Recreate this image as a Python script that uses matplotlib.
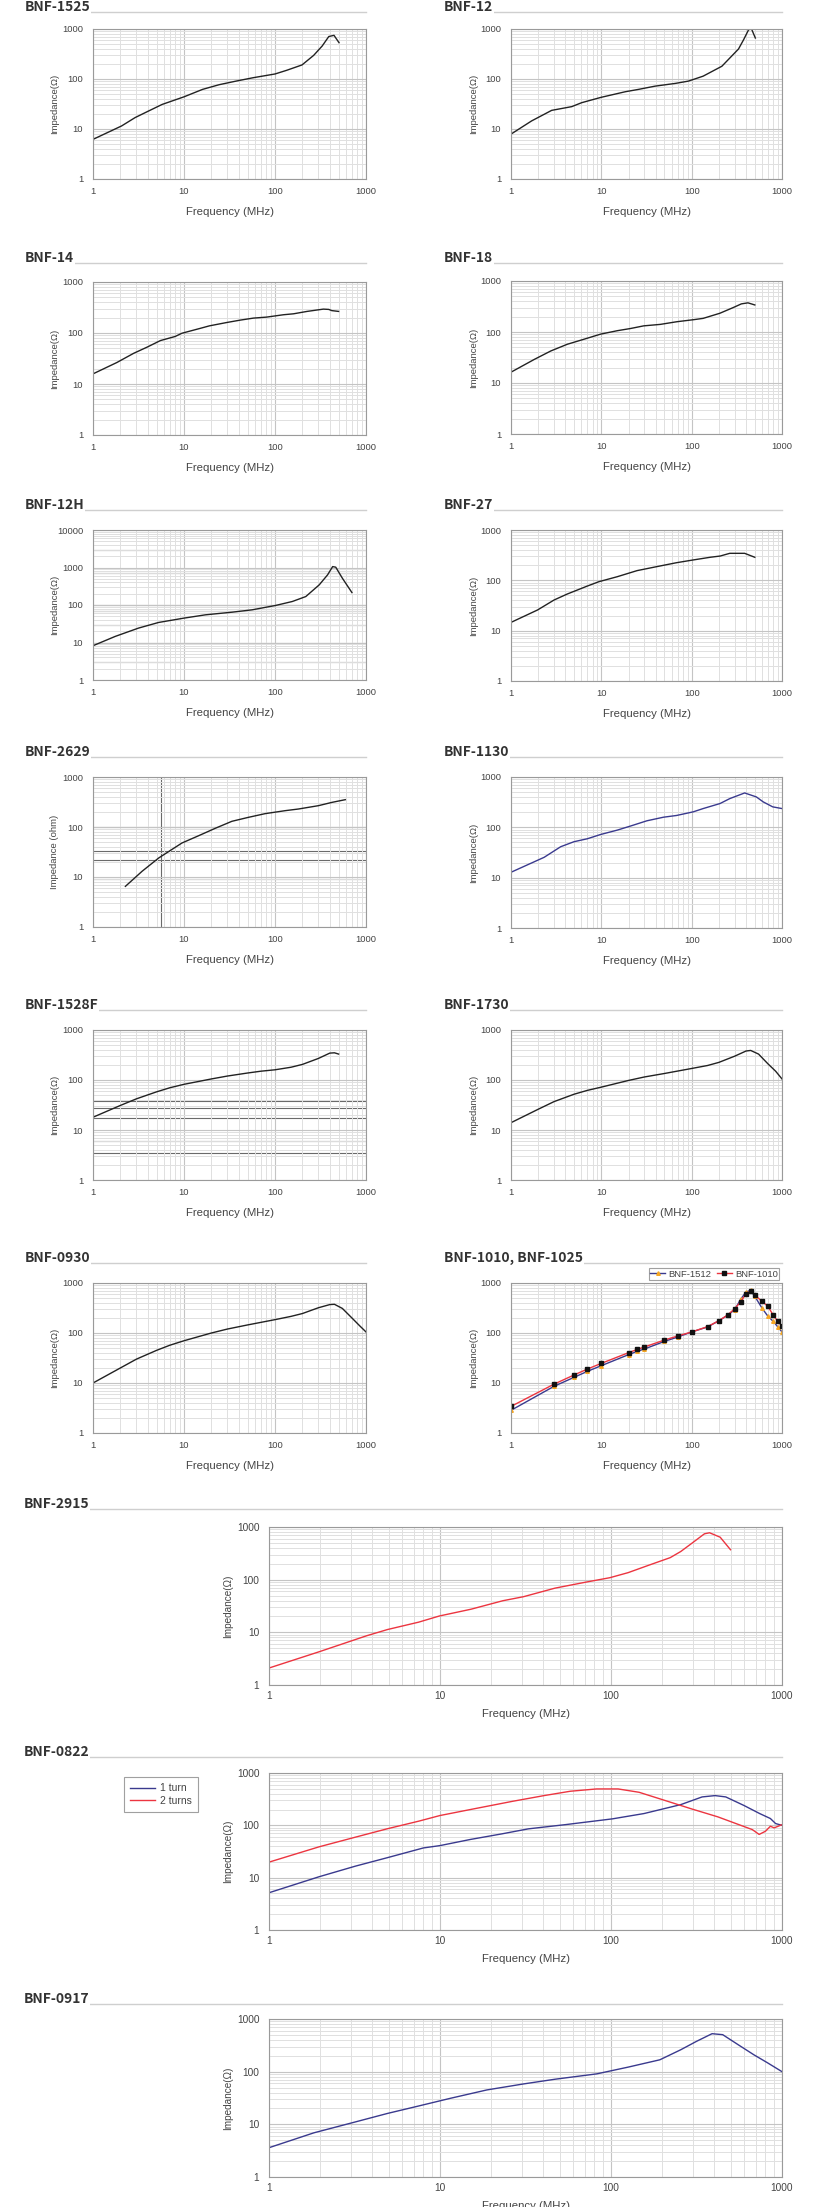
#!/usr/bin/env python3
"""Impedance vs frequency curves for the BNF ferrite bead series."""

import matplotlib

matplotlib.use("Agg")
import matplotlib.pyplot as plt
from matplotlib.lines import Line2D
from matplotlib.ticker import LogLocator, NullFormatter

plt.rcParams["font.family"] = ["Liberation Sans", "DejaVu Sans"]

W, H = 821, 2207

# ── data (MHz, Ohm) ────────────────────────────────

f_1525 = [1, 2.06, 2.9, 4.08, 5.75, 10, 16, 24.4, 37.6, 57.4, 100, 134, 198, 266, 330, 390, 445, 505]
z_1525 = [6.2, 11.5, 16.9, 22.9, 31, 44, 62, 77, 91, 106, 126, 149, 191, 297, 457, 707, 747, 533]

f_12 = [1, 1.69, 2.82, 4.7, 6.06, 9.9, 18.4, 25.8, 39.4, 65.6, 92, 134, 216, 330, 376, 427, 460, 507]
z_12 = [7.9, 14.5, 23.6, 28, 33.6, 42.9, 55.6, 62, 72, 81.5, 90.7, 114, 180, 398, 612, 968, 1000, 660]

f_14 = [1, 1.83, 2.8, 3.92, 5.5, 8, 9.5, 15, 19, 29.7, 41.6, 58, 81, 124, 160, 225, 340, 390, 420, 500]
z_14 = [15.8, 26.4, 40, 52.7, 71, 85.5, 99, 123, 138, 161, 179, 196, 205, 228, 238, 265, 294, 290, 275, 265]

f_18 = [1, 1.81, 2.76, 4.2, 6.4, 9.8, 15, 21, 29.5, 45, 68.5, 104, 134, 205, 288, 355, 420, 500]
z_18 = [16.3, 29, 42.5, 57.5, 72, 90.7, 106, 117, 132, 141, 159, 174, 185, 233, 301, 356, 373, 339]

f_12h = [1, 1.75, 3.16, 5.25, 10, 17.2, 33.9, 56, 101, 155, 218, 306, 378, 430, 465, 550, 700]
z_12h = [8.2, 14.5, 24.2, 34.2, 44.7, 54.7, 64.4, 74.3, 97, 124, 168, 344, 635, 1057, 1020, 518, 215]

f_27 = [1, 1.97, 3, 4.2, 7, 9.4, 15, 24.9, 41, 68, 104, 160, 207, 264, 386, 500]
z_27 = [14.6, 25.8, 40.7, 53.5, 77, 94, 118, 156, 187, 224, 254, 287, 304, 344, 344, 287]

f_2629 = [2.27, 3.46, 5.27, 9.5, 14.5, 22, 33.6, 51, 78, 129, 181, 300, 423, 592]
z_2629 = [6.5, 13, 24, 47.9, 67, 94, 130, 156, 185, 212, 229, 267, 311, 352]

f_1130 = [1, 1.66, 2.33, 3.55, 4.98, 7, 9.8, 15, 21, 32, 48.8, 68, 104, 134, 206, 264, 386, 520, 620, 790, 1000]
z_1130 = [12.8, 19.3, 25.4, 41.2, 51.8, 59.3, 72, 88, 106, 135, 159, 172, 203, 236, 297, 372, 482, 402, 320, 255, 236]

f_1528f = [1, 2, 3, 5, 7, 10, 20, 30, 50, 70, 100, 150, 200, 300, 400, 450, 500]
z_1528f = [18, 31, 42, 58, 70, 82, 105, 120, 138, 150, 160, 180, 205, 270, 345, 350, 330]

f_1730 = [1, 2, 3, 5, 7, 10, 20, 30, 50, 100, 150, 200, 300, 400, 450, 550, 700, 850, 1000]
z_1730 = [14, 26, 37, 52, 62, 72, 98, 115, 135, 170, 195, 225, 300, 380, 390, 330, 210, 150, 105]

f_0930 = [1, 2, 3, 5, 7, 10, 20, 30, 50, 100, 150, 200, 300, 400, 450, 550, 700, 850, 1000]
z_0930 = [10, 20, 30, 45, 57, 70, 100, 120, 145, 185, 215, 245, 320, 370, 375, 310, 200, 140, 105]

# BNF-1010 / BNF-1025 measured points
f_1010 = [1, 3, 5, 7, 10, 20, 25, 30, 50, 70, 100, 150, 200, 250, 300, 350, 400, 450, 500, 600, 700, 800, 900, 1000]
z_1512 = [2.84, 8.6, 13, 17.1, 22.2, 36.9, 43, 47.9, 68, 83, 105, 132, 176, 226, 293, 478, 661, 713, 541, 316, 215, 171, 132, 105]
z_1010 = [3.4, 9.5, 14.5, 19, 24.7, 40.4, 47, 52.5, 72.4, 87, 105, 134, 176, 229, 307, 423, 612, 692, 575, 430, 341, 226, 171, 136]

f_2915 = [1, 1.97, 3.72, 4.93, 7.5, 9.9, 15.2, 23.3, 30.8, 47, 71.6, 98.5, 126, 167, 222, 256, 295, 352, 377, 435, 500]
z_2915 = [2.1, 4.29, 8.6, 11.3, 15.6, 20.4, 27.5, 39.8, 47.5, 69, 90, 109, 136, 189, 262, 343, 483, 743, 777, 640, 370]

f_0822a = [1, 1.96, 3.2, 4.9, 8, 10, 15, 23, 32.9, 54, 102, 156, 256, 341, 406, 469, 600, 740, 855, 918, 1000]
z_0822a = [5.15, 10.4, 16.6, 24, 37, 41, 53.6, 68.7, 85.7, 103, 133, 168, 249, 349, 370, 349, 239, 168, 135, 108, 100]
f_0822b = [1, 1.96, 3.2, 4.9, 7.5, 10, 15, 26.6, 40.6, 57.8, 82.4, 110, 146, 208, 296, 422, 560, 670, 735, 800, 855, 900, 1000]
z_0822b = [19.8, 38.8, 59.4, 85.7, 120, 154, 200, 288, 370, 448, 496, 496, 428, 297, 206, 145, 103, 83, 67, 77, 96, 89.5, 103]

f_0917 = [1, 1.83, 3.23, 4.93, 7.5, 11.5, 18.8, 30.8, 47, 82.5, 126, 193, 256, 316, 390, 450, 555, 685, 818, 1000]
z_0917 = [3.6, 6.9, 11.2, 16.1, 22.3, 31.2, 45, 58.5, 71.8, 90.8, 122, 168, 261, 376, 526, 504, 324, 209, 149, 100]

# ── styling ───────────────────────────────────────
BLACK = "#222222"
BLUE = "#3a3a8e"
RED = "#ec3540"
TXT = "#444444"

fig = plt.figure(figsize=(W / 100, H / 100), dpi=100)


def add_title(text, x, y, right):
    """Section heading with thin grey rule to the column edge."""
    fig.add_artist(Line2D([x / W, right / W], [1 - y / H, 1 - y / H],
                          color="#cfcfcf", lw=1.0))
    fig.text(x / W, 1 - (y - 1) / H, text, fontsize=10, color="#333333",
             family=["Noto Sans CJK KR", "DejaVu Sans"], fontweight="bold",
             va="baseline", ha="left",
             bbox=dict(facecolor="white", edgecolor="none", pad=0.5))


def make_axes(left, top, right, bottom, ymax=1000, wide=False, ylabel="Impedance(Ω)"):
    ax = fig.add_axes([left / W, 1 - bottom / H, (right - left) / W, (bottom - top) / H])
    ax.set_xscale("log")
    ax.set_yscale("log")
    ax.set_xlim(1, 1000)
    ax.set_ylim(1, ymax)
    majors_y = [10 ** i for i in range(len(str(ymax)))]
    ax.set_xticks([1, 10, 100, 1000])
    ax.set_xticklabels(["1", "10", "100", "1000"])
    ax.set_yticks(majors_y)
    ax.set_yticklabels([str(v) for v in majors_y])
    ax.xaxis.set_minor_locator(LogLocator(base=10, subs=range(2, 10)))
    ax.yaxis.set_minor_locator(LogLocator(base=10, subs=range(2, 10)))
    ax.xaxis.set_minor_formatter(NullFormatter())
    ax.yaxis.set_minor_formatter(NullFormatter())
    ax.grid(which="major", color="#c4c4c4", lw=0.8)
    ax.grid(which="minor", color="#e0e0e0", lw=0.7)
    ax.set_axisbelow(True)
    for s in ax.spines.values():
        s.set_color("#9a9a9a")
        s.set_linewidth(0.8)
    fs = 7.3 if wide else 6.8
    ax.tick_params(which="both", length=0, labelsize=fs, colors=TXT)
    ax.tick_params(axis="x", pad=4 if wide else 5.5)
    ax.tick_params(axis="y", pad=7)
    ax.set_xlabel("Frequency (MHz)", fontsize=8.2, color=TXT)
    ax.set_ylabel(ylabel, fontsize=6.8 if not wide else 7.2, color=TXT,
                  family=["Liberation Sans", "DejaVu Sans"])
    w = right - left
    hgt = bottom - top
    ax.xaxis.set_label_coords(0.5, -(24 if wide else 28) / hgt)
    ax.yaxis.set_label_coords(-(left - (233 if wide else (59 if left < 400 else 478))) / w, 0.5)
    return ax


L_COL = (93, 366, 25)
R_COL = (511, 782, 444)

panels = [
    # title, column, title y, axes top, bottom, freq, imp, color, ymax
    ("BNF-1525", L_COL, 12, 29, 179, f_1525, z_1525, BLACK, 1000),
    ("BNF-12", R_COL, 12, 29, 179, f_12, z_12, BLACK, 1000),
    ("BNF-14", L_COL, 263, 282, 435, f_14, z_14, BLACK, 1000),
    ("BNF-18", R_COL, 263, 281, 434, f_18, z_18, BLACK, 1000),
    ("BNF-12H", L_COL, 510, 530, 680, f_12h, z_12h, BLACK, 10000),
    ("BNF-27", R_COL, 510, 530, 681, f_27, z_27, BLACK, 1000),
    ("BNF-2629", L_COL, 757, 777, 927, f_2629, z_2629, BLACK, 1000),
    ("BNF-1130", R_COL, 757, 777, 928, f_1130, z_1130, BLUE, 1000),
    ("BNF-1528F", L_COL, 1010, 1030, 1180, f_1528f, z_1528f, BLACK, 1000),
    ("BNF-1730", R_COL, 1010, 1030, 1180, f_1730, z_1730, BLACK, 1000),
    ("BNF-0930", L_COL, 1263, 1283, 1433, f_0930, z_0930, BLACK, 1000),
]

axes = {}
for title, (left, right, tx), ty, top, bottom, fx, zy, col, ymax in panels:
    add_title(title, tx, ty, right)
    ylab = "Impedance (ohm)" if title == "BNF-2629" else "Impedance(Ω)"
    ax = make_axes(left, top, right, bottom, ymax=ymax, ylabel=ylab)
    ax.plot(fx, zy, color=col, lw=1.0)
    axes[title] = ax

# scanning artefacts: darker horizontal/vertical rules on some charts
for v in [3000, 700, 100, 70, 30, 10, 3]:
    axes["BNF-12H"].axhline(v, color="#6a6a6a", lw=0.8, zorder=0.5)
for v in [100, 33, 22, 9]:
    axes["BNF-2629"].axhline(v, color="#6a6a6a", lw=0.8, zorder=0.5)
axes["BNF-2629"].axvline(5.6, color="#6a6a6a", lw=0.8, zorder=0.5)
for v in [38, 28, 17, 6, 3.5]:
    axes["BNF-1528F"].axhline(v, color="#6a6a6a", lw=0.8, zorder=0.5)

# ── BNF-1010, BNF-1025 ────────────────────────────
add_title("BNF-1010, BNF-1025", R_COL[2], 1263, R_COL[1])
ax = make_axes(R_COL[0], 1283, R_COL[1], 1433)
ax.plot(f_1010, z_1512, color=BLUE, lw=1.0, marker="^", ms=2.6,
        mfc="#f5a623", mec="#f5a623", label="BNF-1512")
ax.plot(f_1010, z_1010, color=RED, lw=1.0, marker="s", ms=2.2,
        mfc="#111111", mec="#111111", label="BNF-1010")
leg = ax.legend(loc="lower right", bbox_to_anchor=(1.0, 1.0), ncol=2, fontsize=6.8,
                frameon=True, fancybox=False, borderpad=0.15, handlelength=1.6,
                handletextpad=0.3, columnspacing=0.6, borderaxespad=0.3)
leg.get_frame().set_edgecolor("#888888")
leg.get_frame().set_linewidth(0.8)
for t in leg.get_texts():
    t.set_color(TXT)

# ── wide charts ───────────────────────────────────
WL, WR = 269, 782

add_title("BNF-2915", 24, 1509, WR)
ax = make_axes(WL, 1527, WR, 1685, wide=True)
ax.plot(f_2915, z_2915, color=RED, lw=1.0)

add_title("BNF-0822", 24, 1757, WR)
ax = make_axes(WL, 1773, WR, 1930, wide=True)
ax.plot(f_0822a, z_0822a, color=BLUE, lw=1.0, label="1 turn")
ax.plot(f_0822b, z_0822b, color=RED, lw=1.0, label="2 turns")
handles, labels = ax.get_legend_handles_labels()
leg = fig.legend(handles, labels, loc="upper left",
                 bbox_to_anchor=(119 / W, 1 - 1772 / H), fontsize=7.5,
                 frameon=True, fancybox=False, borderpad=0.6, handlelength=2.4,
                 handletextpad=0.4, labelspacing=0.25)
leg.get_frame().set_edgecolor("#888888")
leg.get_frame().set_linewidth(0.8)
for t in leg.get_texts():
    t.set_color(TXT)

add_title("BNF-0917", 24, 2004, WR)
ax = make_axes(WL, 2019, WR, 2177, wide=True)
ax.plot(f_0917, z_0917, color=BLUE, lw=1.0)

fig.savefig("out.png", dpi=100, facecolor="white")
